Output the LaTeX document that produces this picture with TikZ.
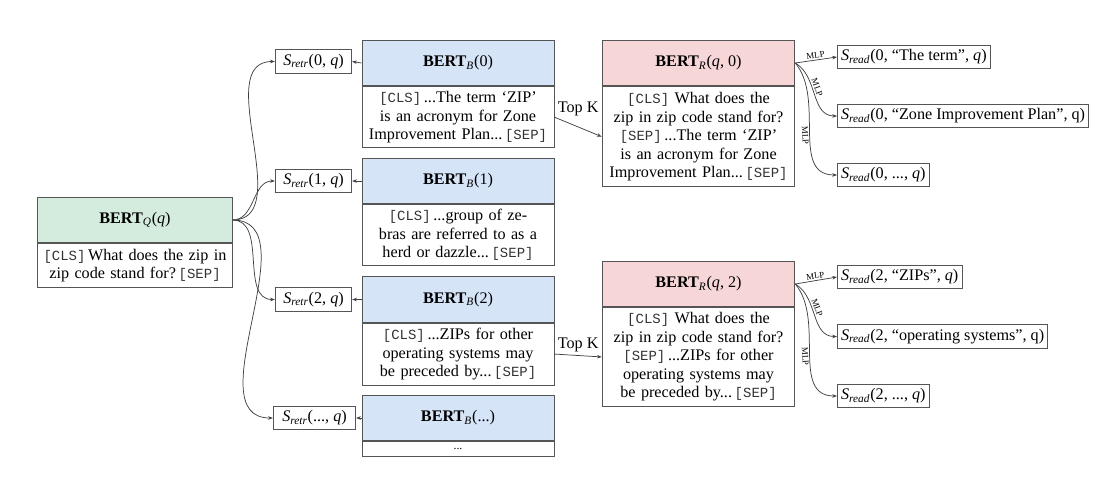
\documentclass[tikz,border=0pt]{standalone}
\usepackage{fontspec}
\setmainfont{Liberation Serif}
\setmonofont{Liberation Mono}
\usetikzlibrary{arrows.meta}
\definecolor{qgreen}{RGB}{212,236,222}
\definecolor{bblue}{RGB}{214,228,248}
\definecolor{rpink}{RGB}{246,214,214}
\definecolor{edgec}{RGB}{85,85,85}
\newcommand\tk[1]{{\fontsize{9.5}{12}\selectfont\color{black!80}\texttt{[#1]}}}
\newcommand\Sr[2]{\textit{S}\textsubscript{\textit{#1}}(#2)}
\newcommand\Bt[2]{\textbf{BERT}\textsubscript{\textit{#1}}(#2)}
\tikzset{
  every node/.style={font=\fontsize{11}{12.6}\selectfont},
  hdr/.style={draw=edgec, line width=0.6pt, minimum width=130.6pt, minimum height=31pt, inner sep=0pt},
  txt/.style={draw=edgec, line width=0.6pt, text width=128.6pt, align=center, inner xsep=1pt, inner ysep=2pt, anchor=north},
  sbox/.style={draw=edgec, line width=0.6pt, minimum height=16pt, inner sep=2.5pt},
  arr/.style={draw=black!75, line width=0.5pt, -{Stealth[length=3.2pt,width=2.4pt]}},
  mlp/.style={font=\fontsize{6}{7}\selectfont, inner sep=1pt}
}
\begin{document}
\begin{tikzpicture}[x=0.68pt,y=-0.68pt]
\useasboundingbox (0,0) rectangle (1109,476);

% query encoder
\node[hdr, fill=qgreen, minimum width=132pt] (q) at (135,220) {\Bt{Q}{\textit{q}}};
\node[txt, text width=130pt, minimum height=30pt] (qt) at (q.south) {\tk{CLS}\,What does the zip in\\ zip code stand for?\,\tk{SEP}};

% block encoders
\node[hdr, fill=bblue] (b0) at (458,63) {\Bt{B}{0}};
\node[txt, minimum height=41.5pt] (b0t) at (b0.south) {\tk{CLS}\,...The term ‘ZIP’\\ is an acronym for Zone\\ Improvement Plan...\,\tk{SEP}};
\node[hdr, fill=bblue] (b1) at (458,181) {\Bt{B}{1}};
\node[txt, minimum height=41.5pt] (b1t) at (b1.south) {\tk{CLS}\,...group of ze-\\ bras are referred to as a\\ herd or dazzle...\,\tk{SEP}};
\node[hdr, fill=bblue] (b2) at (458,299.5) {\Bt{B}{2}};
\node[txt, minimum height=42pt] (b2t) at (b2.south) {\tk{CLS}\,...ZIPs for other\\ operating systems may\\ be preceded by...\,\tk{SEP}};
\node[hdr, fill=bblue] (b3) at (458,418) {\Bt{B}{...}};
\node[txt, minimum height=10.2pt, inner ysep=0pt, font=\fontsize{8}{9}\selectfont] (b3t) at (b3.south) {...};

% retrieval scores
\node[sbox, minimum width=52pt] (s0) at (313.5,61.5) {\Sr{retr}{0, \textit{q}}};
\node[sbox, minimum width=52pt] (s1) at (313.5,181) {\Sr{retr}{1, \textit{q}}};
\node[sbox, minimum width=52pt] (s2) at (313.5,299.5) {\Sr{retr}{2, \textit{q}}};
\node[sbox, minimum width=56pt] (s3) at (314.5,418) {\Sr{retr}{..., \textit{q}}};

\foreach \i in {0,1,2,3} {
  \draw[arr] (q.east) to[out=0,in=180] (s\i.west);
  \draw[arr] (b\i.west) -- (s\i.east);
}

% readers
\node[hdr, fill=rpink, minimum width=131pt] (r0) at (698.5,63) {\Bt{R}{\textit{q}, 0}};
\node[txt, text width=129pt, minimum height=68pt] (r0t) at (r0.south) {\tk{CLS} What does the\\ zip in zip code stand for?\\ \tk{SEP}\,...The term ‘ZIP’\\ is an acronym for Zone\\ Improvement Plan...\,\tk{SEP}};
\node[hdr, fill=rpink, minimum width=131pt] (r2) at (698.5,284) {\Bt{R}{\textit{q}, 2}};
\node[txt, text width=129pt, minimum height=67pt] (r2t) at (r2.south) {\tk{CLS} What does the\\ zip in zip code stand for?\\ \tk{SEP}\,...ZIPs for other\\ operating systems may\\ be preceded by...\,\tk{SEP}};

\draw[arr] (b0t.east) -- node[midway, above=7pt, inner sep=0pt] {Top K} (r0t.west);
\draw[arr] (b2t.east) -- node[midway, above=2pt, inner sep=0pt] {Top K} (r2t.west);

% reading scores
\node[sbox, anchor=west] (p00) at (837,57) {\Sr{read}{0, “The term”, \textit{q}}};
\node[sbox, anchor=west] (p01) at (837,116) {\Sr{read}{0, “Zone Improvement Plan”, q}};
\node[sbox, anchor=west] (p02) at (837,175) {\Sr{read}{0, ..., \textit{q}}};
\node[sbox, anchor=west] (p20) at (837,277) {\Sr{read}{2, “ZIPs”, \textit{q}}};
\node[sbox, anchor=west] (p21) at (837,336.5) {\Sr{read}{2, “operating systems”, q}};
\node[sbox, anchor=west] (p22) at (837,396) {\Sr{read}{2, ..., \textit{q}}};

\foreach \r in {0,2} {
  \draw[arr] (r\r.east) -- node[mlp, above, sloped] {MLP} (p\r0.west);
  \draw[arr] (r\r.east) to[out=-30,in=180] node[mlp, above, sloped, pos=0.42] {MLP} (p\r1.west);
  \draw[arr] (r\r.east) to[out=-50,in=180] node[mlp, below, sloped, pos=0.52] {MLP} (p\r2.west);
}
\end{tikzpicture}
\end{document}
